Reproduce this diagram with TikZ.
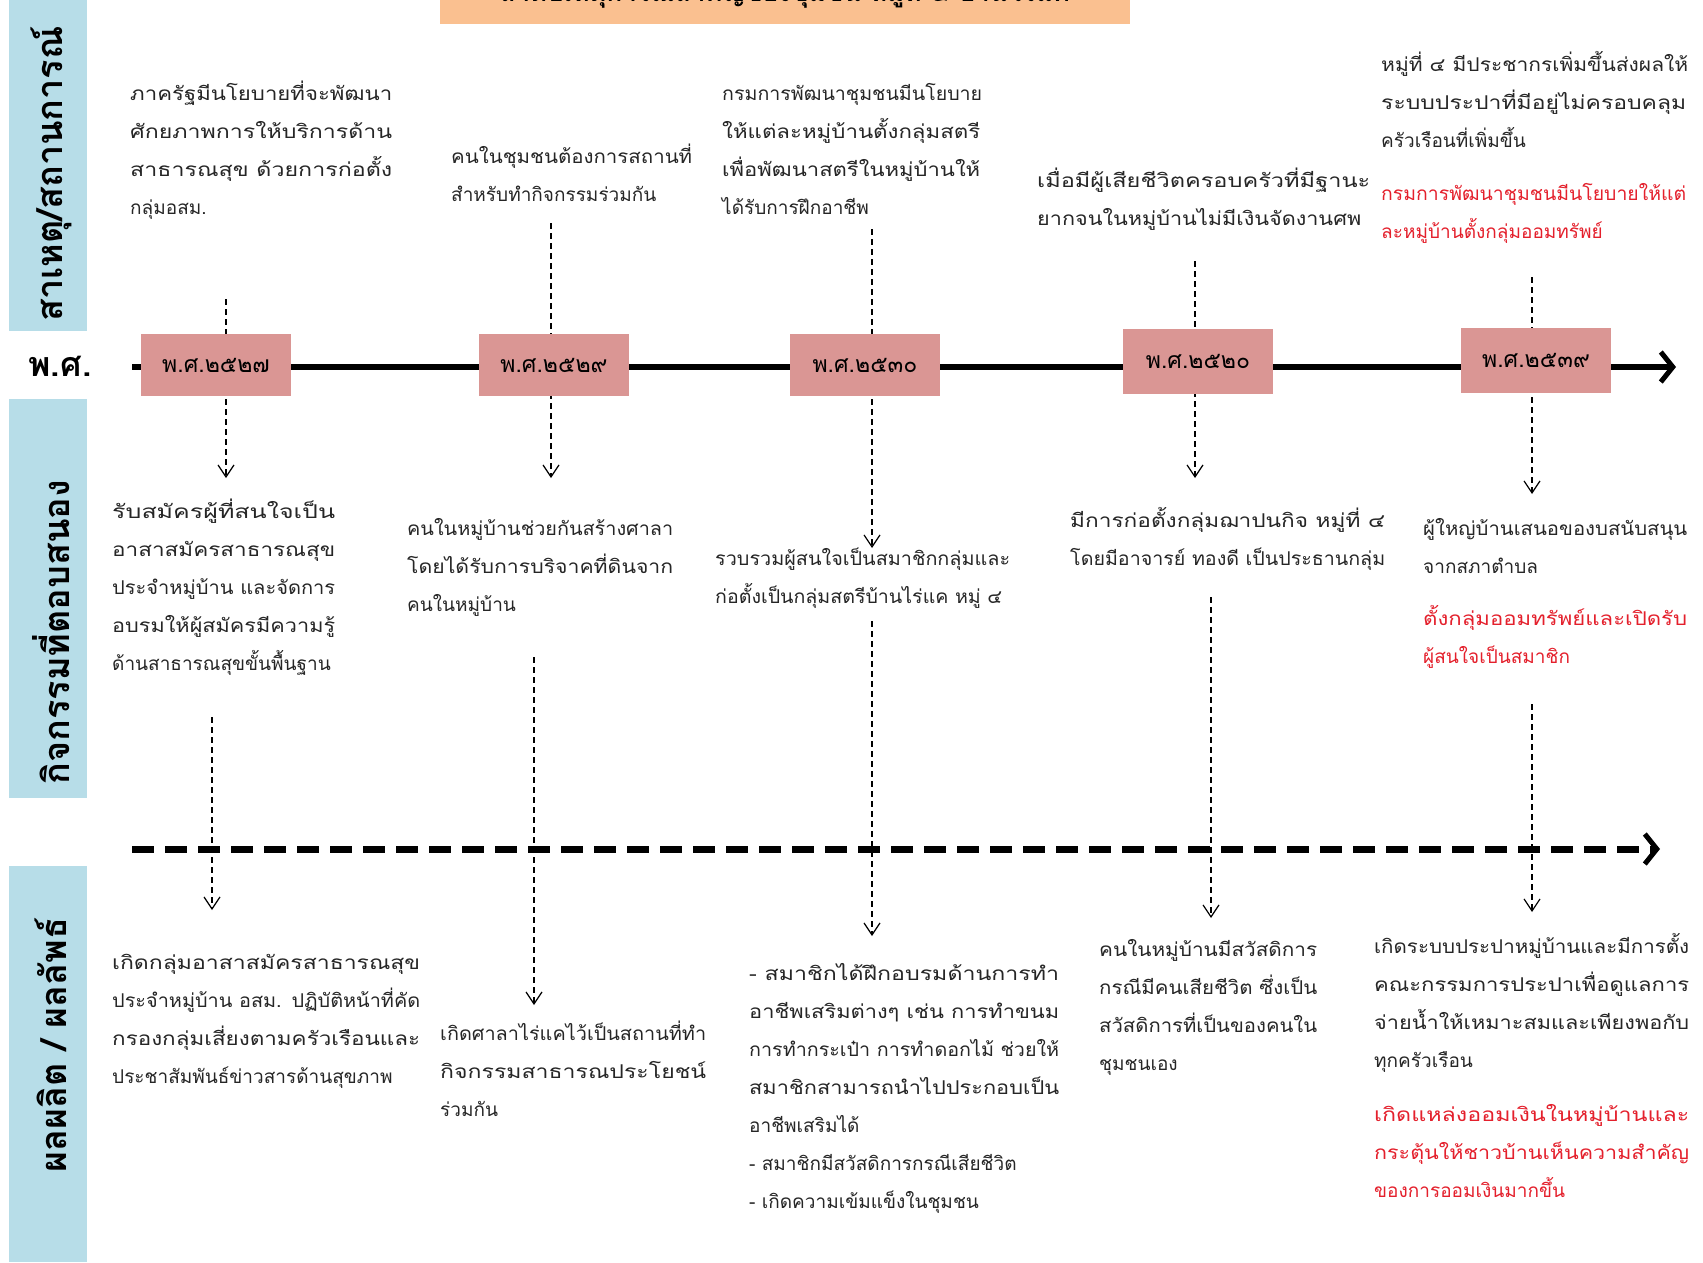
\documentclass[tikz,border=0pt]{standalone}
\usepackage{fontspec}
\usepackage{graphicx}
\newfontfamily\thai[Script=Thai]{Loma}
\usetikzlibrary{arrows.meta}
\definecolor{barblue}{RGB}{183,221,232}
\definecolor{yearpink}{RGB}{218,150,148}
\definecolor{titleorange}{RGB}{250,192,144}
\definecolor{redtxt}{RGB}{228,32,44}
% justified line: stretch a line to a given width
\newcommand\jl[2]{\resizebox{#1pt}{\height}{#2}}
\tikzset{
  txt/.style={anchor=north west, inner sep=0pt, text width=360pt, align=left,
    font=\thai\fontsize{19}{38}\selectfont, text=black!85,
    execute at begin node=\rule{0pt}{29pt}},
  redblock/.style={txt, text=redtxt},
  yearbox/.style={draw=none, fill=yearpink, minimum width=150pt, minimum height=62pt,
    inner sep=0pt, font=\thai\fontsize{23}{26}\selectfont},
  bartitle/.style={rotate=90, inner sep=0pt, font=\thai\bfseries\fontsize{36}{40}\selectfont},
  link/.style={line width=1.2pt, dash pattern=on 6pt off 4pt,
    -{Straight Barb[length=12pt,width=16pt,line width=1.2pt]}},
  mainline/.style={line width=6pt, -{Straight Barb[length=12pt,width=30pt,line width=5pt]}},
  dashline/.style={line width=7pt, dash pattern=on 22pt off 11pt,
    -{Straight Barb[length=12pt,width=30pt,line width=5pt]}}
}
\begin{document}
\begin{tikzpicture}[x=1pt,y=-1pt]
\useasboundingbox (0,0) rectangle (1703,1262);
\fill[white] (0,0) rectangle (1703,1262);
% side bars
\fill[barblue] (9,0) rectangle (87,331);
\fill[barblue] (9,399) rectangle (87,798);
\fill[barblue] (9,866) rectangle (87,1262);
\node[bartitle] (b1) at (51,174) {สาเหตุ/สถานการณ์};
\node[bartitle] (b2) at (51,632) {กิจกรรมที่ตอบสนอง};
\node[bartitle] (b3) at (51,1045) {ผลผลิต / ผลลัพธ์};
\node[inner sep=0pt, font=\thai\bfseries\fontsize{34}{36}\selectfont] (ps) at (60,366) {พ.ศ.};
% title box (cut at the top)
\fill[titleorange] (440,0) rectangle (1130,24);
\node[anchor=base, inner sep=0pt, font=\thai\bfseries\fontsize{26}{30}\selectfont] (title) at (785,1) {ลำดับเหตุการณ์สำคัญของชุมชน หมู่ที่ ๔ บ้านไร่แค};
% timelines
\coordinate (m1) at (132,367);
\coordinate (m2) at (1676,367);
\coordinate (d1) at (132,849);
\coordinate (d2) at (1660,849);
\draw[mainline] (m1) -- (m2);
\draw[dashline] (d1) -- (d2);
% connector coordinates
\coordinate (c1a) at (226,299);  \coordinate (c1b) at (226,478);
\coordinate (c1c) at (212,717);  \coordinate (c1d) at (212,910);
\coordinate (c2a) at (551,223);  \coordinate (c2b) at (551,478);
\coordinate (c2c) at (534,657);  \coordinate (c2d) at (534,1005);
\coordinate (c3a) at (872,229);  \coordinate (c3b) at (872,548);
\coordinate (c3c) at (872,621);  \coordinate (c3d) at (872,936);
\coordinate (c4a) at (1195,261); \coordinate (c4b) at (1195,478);
\coordinate (c4c) at (1211,597); \coordinate (c4d) at (1211,918);
\coordinate (c5a) at (1532,277); \coordinate (c5b) at (1532,494);
\coordinate (c5c) at (1532,704); \coordinate (c5d) at (1532,912);
\foreach \i in {1,...,5}{
  \draw[link] (c\i a) -- (c\i b);
  \draw[link] (c\i c) -- (c\i d);
}
% year boxes
\node[yearbox] (y1) at (216,365) {พ.ศ.๒๕๒๗};
\node[yearbox] (y2) at (554,365) {พ.ศ.๒๕๒๙};
\node[yearbox] (y3) at (865,365) {พ.ศ.๒๕๓๐};
\node[yearbox, minimum height=65pt] (y4) at (1198,361) {พ.ศ.๒๕๒๐};
\node[yearbox, minimum height=65pt] (y5) at (1536,360) {พ.ศ.๒๕๓๙};
% causes
\node[txt] (t1) at (130,71) {\jl{262}{ภาครัฐมีนโยบายที่จะพัฒนา}\\\jl{262}{ศักยภาพการให้บริการด้าน}\\\jl{262}{สาธารณสุข ด้วยการก่อตั้ง}\\กลุ่มอสม.};
\node[txt] (t2) at (451,134) {\jl{241}{คนในชุมชนต้องการสถานที่}\\สำหรับทำกิจกรรมร่วมกัน};
\node[txt] (t3) at (722,71) {\jl{260}{กรมการพัฒนาชุมชนมีนโยบาย}\\\jl{258}{ให้แต่ละหมู่บ้านตั้งกลุ่มสตรี}\\\jl{258}{เพื่อพัฒนาสตรีในหมู่บ้านให้}\\ได้รับการฝึกอาชีพ};
\node[txt] (t4) at (1037,158) {\jl{333}{เมื่อมีผู้เสียชีวิตครอบครัวที่มีฐานะ}\\\jl{324}{ยากจนในหมู่บ้านไม่มีเงินจัดงานศพ}};
\node[txt] (t5) at (1381,42) {\jl{307}{หมู่ที่ ๔ มีประชากรเพิ่มขึ้นส่งผลให้}\\\jl{305}{ระบบประปาที่มีอยู่ไม่ครอบคลุม}\\ครัวเรือนที่เพิ่มขึ้น};
\node[redblock] (t5r) at (1381,171) {\jl{305}{กรมการพัฒนาชุมชนมีนโยบายให้แต่}\\ละหมู่บ้านตั้งกลุ่มออมทรัพย์};
% activities
\node[txt] (a1) at (112,489) {\jl{223}{รับสมัครผู้ที่สนใจเป็น}\\\jl{223}{อาสาสมัครสาธารณสุข}\\\jl{223}{ประจำหมู่บ้าน และจัดการ}\\\jl{223}{อบรมให้ผู้สมัครมีความรู้}\\ด้านสาธารณสุขขั้นพื้นฐาน};
\node[txt] (a2) at (407,506) {\jl{266}{คนในหมู่บ้านช่วยกันสร้างศาลา}\\\jl{266}{โดยได้รับการบริจาคที่ดินจาก}\\คนในหมู่บ้าน};
\node[txt] (a3) at (715,536) {\jl{295}{รวบรวมผู้สนใจเป็นสมาชิกกลุ่มและ}\\\jl{287}{ก่อตั้งเป็นกลุ่มสตรีบ้านไร่แค หมู่ ๔}};
\node[txt] (a4) at (1070,498) {\jl{315}{มีการก่อตั้งกลุ่มฌาปนกิจ หมู่ที่ ๔}\\\jl{315}{โดยมีอาจารย์ ทองดี เป็นประธานกลุ่ม}};
\node[txt] (a5) at (1423,506) {\jl{264}{ผู้ใหญ่บ้านเสนอของบสนับสนุน}\\จากสภาตำบล};
\node[redblock] (a5r) at (1423,596) {\jl{264}{ตั้งกลุ่มออมทรัพย์และเปิดรับ}\\ผู้สนใจเป็นสมาชิก};
% outputs
\node[txt] (o1) at (112,940) {\jl{308}{เกิดกลุ่มอาสาสมัครสาธารณสุข}\\\jl{308}{ประจำหมู่บ้าน อสม. ปฏิบัติหน้าที่คัด}\\\jl{308}{กรองกลุ่มเสี่ยงตามครัวเรือนและ}\\ประชาสัมพันธ์ข่าวสารด้านสุขภาพ};
\node[txt] (o2) at (440,1011) {\jl{266}{เกิดศาลาไร่แคไว้เป็นสถานที่ทำ}\\\jl{266}{กิจกรรมสาธารณประโยชน์}\\ร่วมกัน};
\node[txt] (o3) at (749,951) {\jl{310}{- สมาชิกได้ฝึกอบรมด้านการทำ}\\\jl{310}{อาชีพเสริมต่างๆ เช่น การทำขนม}\\\jl{310}{การทำกระเป๋า การทำดอกไม้ ช่วยให้}\\\jl{310}{สมาชิกสามารถนำไปประกอบเป็น}\\อาชีพเสริมได้\\- สมาชิกมีสวัสดิการกรณีเสียชีวิต\\- เกิดความเข้มแข็งในชุมชน};
\node[txt] (o4) at (1099,927) {\jl{218}{คนในหมู่บ้านมีสวัสดิการ}\\\jl{218}{กรณีมีคนเสียชีวิต ซึ่งเป็น}\\\jl{218}{สวัสดิการที่เป็นของคนใน}\\ชุมชนเอง};
\node[txt] (o5) at (1374,924) {\jl{315}{เกิดระบบประปาหมู่บ้านและมีการตั้ง}\\\jl{315}{คณะกรรมการประปาเพื่อดูแลการ}\\\jl{315}{จ่ายน้ำให้เหมาะสมและเพียงพอกับ}\\ทุกครัวเรือน};
\node[redblock] (o5r) at (1374,1092) {\jl{315}{เกิดแหล่งออมเงินในหมู่บ้านและ}\\\jl{315}{กระตุ้นให้ชาวบ้านเห็นความสำคัญ}\\ของการออมเงินมากขึ้น};
\end{tikzpicture}
\end{document}
